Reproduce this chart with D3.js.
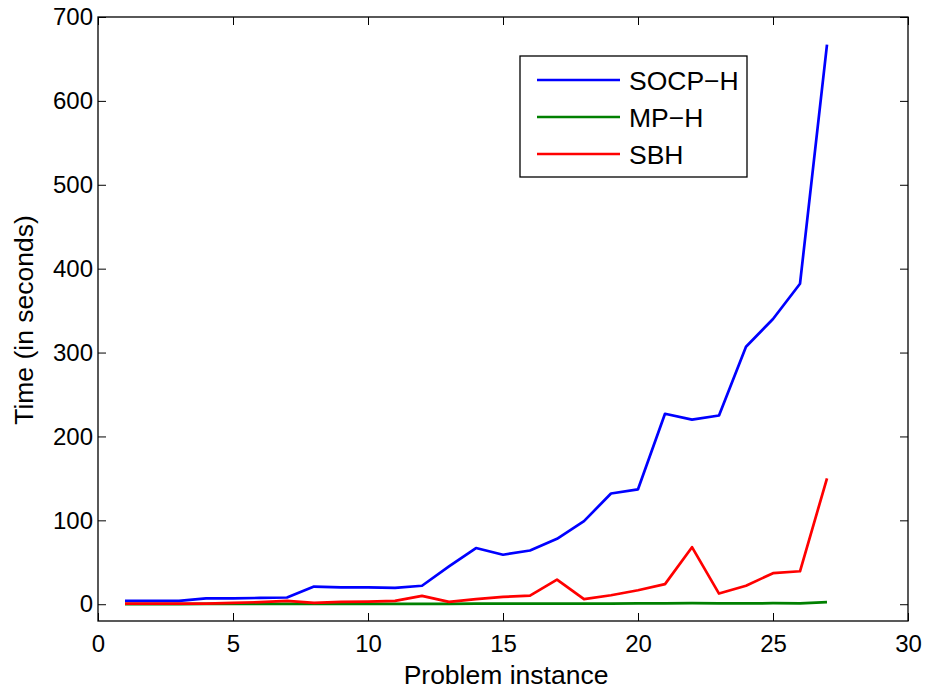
<!DOCTYPE html>
<html>
<head>
<meta charset="utf-8">
<script src="https://cdn.jsdelivr.net/npm/d3@7"></script>
<style>
  html, body { margin: 0; padding: 0; background: #fff; }
  text { font-family: "Liberation Sans", Arial, Helvetica, sans-serif; fill: #000; }
</style>
</head>
<body>
<svg id="chart" width="930" height="695"></svg>
<script>
const instances = d3.range(1, 28);
const socpH = [4, 4, 4, 7, 7, 7.5, 8, 21, 20, 20, 19.5, 22, 45, 67, 59, 64, 78, 99, 132, 137, 227, 220, 225, 307, 340, 382, 667];
const mpH = [0.2, 0.2, 0.2, 0.3, 0.3, 0.3, 0.4, 0.4, 0.4, 0.5, 0.5, 0.5, 0.5, 0.6, 0.6, 0.7, 0.8, 0.6, 0.7, 0.9, 1, 1.2, 1, 0.9, 1.2, 1.1, 2.4];
const sbh = [0.8, 0.8, 0.8, 0.8, 1.5, 2.5, 4, 1.6, 2.8, 3, 3.9, 9.9, 2.8, 6, 8.7, 10.3, 29.4, 6, 10.7, 16.7, 24, 68, 12.7, 22, 37, 39.3, 150];
const seriesNames = ["SOCP-H", "MP-H", "SBH"];
const seriesColors = ["#0000ff", "#008000", "#ff0000"];
const xTicks = [0, 5, 10, 15, 20, 25, 30];
const yTicks = [0, 100, 200, 300, 400, 500, 600, 700];

(function () {
const svg = d3.select("#chart");
const L = 98, R = 908, T = 17, B = 621;
const x = d3.scaleLinear().domain([0, 30]).range([L, R]);
const y = d3.scaleLinear().domain([-20, 700]).range([B, T]);
const tickLen = 8;

const series = [socpH, mpH, sbh];
const line = d3.line().x((d, i) => x(instances[i])).y(d => y(d));
series.forEach((s, k) => {
  svg.append("path").datum(s)
    .attr("d", line)
    .attr("fill", "none")
    .attr("stroke", seriesColors[k])
    .attr("stroke-width", 2.7)
    .attr("stroke-linejoin", "round");
});

const tickFont = 24, titleFont = 26.5, legendFont = 26.5;
const gBottom = svg.append("g").attr("transform", `translate(0,${B})`)
  .call(d3.axisBottom(x).tickValues(xTicks).tickSizeInner(-tickLen).tickSizeOuter(0).tickPadding(14));
const gTop = svg.append("g").attr("transform", `translate(0,${T})`)
  .call(d3.axisTop(x).tickValues(xTicks).tickSizeInner(-tickLen).tickSizeOuter(0).tickFormat(""));
const gLeft = svg.append("g").attr("transform", `translate(${L},0)`)
  .call(d3.axisLeft(y).tickValues(yTicks).tickSizeInner(-tickLen).tickSizeOuter(0).tickPadding(5));
const gRight = svg.append("g").attr("transform", `translate(${R},0)`)
  .call(d3.axisRight(y).tickValues(yTicks).tickSizeInner(-tickLen).tickSizeOuter(0).tickFormat(""));

[gBottom, gTop, gLeft, gRight].forEach(g => {
  g.select(".domain").remove();
  g.selectAll(".tick line").attr("stroke", "#000").attr("stroke-width", 1);
  g.selectAll("text").attr("font-size", tickFont)
    .attr("font-family", "'Liberation Sans', Arial, sans-serif").attr("fill", "#000");
});

svg.append("rect").attr("x", L).attr("y", T).attr("width", R - L).attr("height", B - T)
  .attr("fill", "none").attr("stroke", "#000").attr("stroke-width", 1.3);

svg.append("text").attr("x", 506).attr("y", 684)
  .attr("text-anchor", "middle").attr("font-size", titleFont).text("Problem instance");
svg.append("text").attr("transform", `translate(33,320) rotate(-90)`)
  .attr("text-anchor", "middle").attr("font-size", titleFont).text("Time (in seconds)");

const lg = svg.append("g");
lg.append("rect").attr("x", 520).attr("y", 56).attr("width", 227).attr("height", 121)
  .attr("fill", "#fff").attr("stroke", "#000").attr("stroke-width", 1.3);
const legY = [80, 117, 154];
seriesNames.forEach((n, k) => {
  lg.append("line").attr("x1", 537).attr("x2", 620).attr("y1", legY[k]).attr("y2", legY[k])
    .attr("stroke", seriesColors[k]).attr("stroke-width", 2.7);
  lg.append("text").attr("x", 629).attr("y", legY[k] + 9.5).attr("font-size", legendFont)
    .text(n.replace("-", "\u2212"));
});
})();
</script>
</body>
</html>
